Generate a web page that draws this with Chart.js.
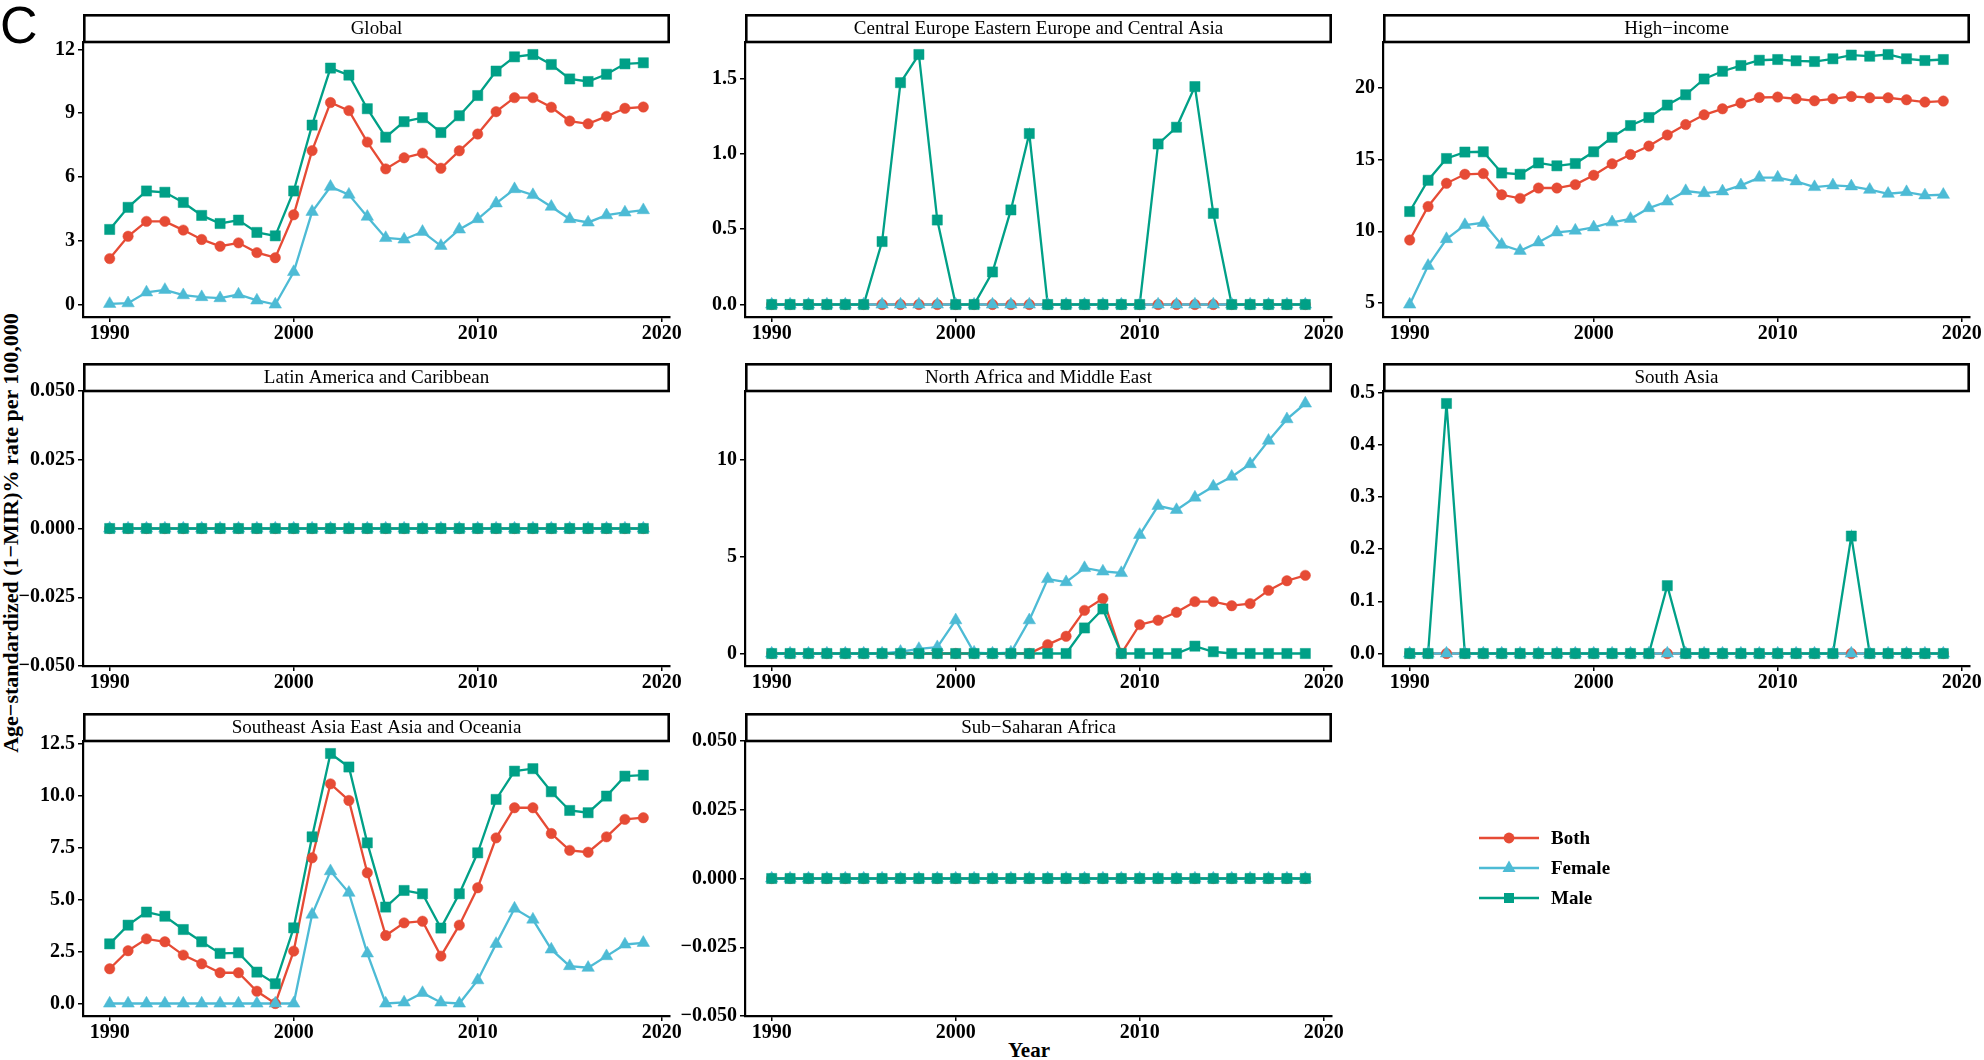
<!DOCTYPE html>
<html>
<head>
<meta charset="utf-8">
<script src="https://cdn.jsdelivr.net/npm/chart.js@4.4.1/dist/chart.umd.min.js"></script>
<style>
html, body { margin:0; padding:0; background:#fff; overflow:hidden; }
body { width:1984px; height:1060px; position:relative; }
canvas { position:absolute; }
.lbl { position:absolute; color:#000; white-space:nowrap; }
#tag { left:0; top:-1px; font:52px/1 "Liberation Sans", Arial, sans-serif; }
#ytitle { font:bold 22px/1 "Liberation Serif", serif; left:11px; top:533px; transform:translate(-50%,-50%) rotate(-90deg); }
#xtitle { font:bold 21px/1 "Liberation Serif", serif; left:1029px; top:1050px; transform:translate(-50%,-50%); }
</style>
</head>
<body>
<div id="tag" class="lbl">C</div>
<div id="ytitle" class="lbl">Age−standardized (1−MIR)% rate per 100,000</div>
<div id="xtitle" class="lbl">Year</div>

<script>
// data
var years = [1990,1991,1992,1993,1994,1995,1996,1997,1998,1999,2000,2001,2002,2003,2004,2005,2006,2007,2008,2009,2010,2011,2012,2013,2014,2015,2016,2017,2018,2019];
var xTicks = [1990, 2000, 2010, 2020];
var seriesNames = ['Both', 'Female', 'Male'];

var globalBoth   = [2.16,3.21,3.91,3.91,3.50,3.06,2.74,2.90,2.44,2.20,4.22,7.24,9.50,9.12,7.64,6.38,6.90,7.12,6.41,7.23,8.02,9.07,9.73,9.73,9.28,8.63,8.50,8.85,9.23,9.29];
var globalFemale = [0.03,0.06,0.57,0.69,0.44,0.35,0.30,0.47,0.19,0.00,1.53,4.36,5.54,5.17,4.13,3.13,3.06,3.42,2.76,3.53,4.02,4.76,5.43,5.15,4.60,4.02,3.86,4.20,4.33,4.44];
var globalMale   = [3.53,4.57,5.34,5.28,4.80,4.19,3.81,3.97,3.39,3.23,5.34,8.44,11.12,10.79,9.21,7.87,8.60,8.79,8.09,8.88,9.83,10.98,11.65,11.76,11.29,10.61,10.49,10.83,11.32,11.37];
var globalTicks  = [0, 3, 6, 9, 12];

var ceeBoth   = [0,0,0,0,0,0,0,0,0,0,0,0,0,0,0,0,0,0,0,0,0,0,0,0,0,0,0,0,0,0];
var ceeFemale = [0,0,0,0,0,0,0,0,0,0,0,0,0,0,0,0,0,0,0,0,0,0,0,0,0,0,0,0,0,0];
var ceeMale   = [0,0,0,0,0,0,0.418,1.473,1.660,0.561,0,0,0.216,0.628,1.135,0,0,0,0,0,0,1.066,1.177,1.447,0.605,0,0,0,0,0];
var ceeTicks  = [0, 0.5, 1.0, 1.5];

var hiBoth   = [9.39,11.73,13.35,13.98,14.03,12.55,12.30,13.02,13.02,13.26,13.91,14.71,15.36,15.95,16.72,17.45,18.13,18.55,18.95,19.34,19.37,19.25,19.11,19.25,19.41,19.32,19.32,19.18,19.02,19.09];
var hiFemale = [4.89,7.59,9.46,10.44,10.59,9.06,8.64,9.23,9.93,10.05,10.28,10.63,10.87,11.62,12.08,12.81,12.67,12.79,13.21,13.75,13.75,13.49,13.09,13.21,13.14,12.90,12.62,12.74,12.51,12.55];
var hiMale   = [11.38,13.56,15.08,15.53,15.55,14.07,13.98,14.77,14.57,14.73,15.55,16.56,17.38,17.94,18.81,19.53,20.63,21.17,21.57,21.94,21.99,21.90,21.85,22.04,22.30,22.22,22.34,22.04,21.92,21.99];
var hiTicks  = [5, 10, 15, 20];

var lacBoth   = [0,0,0,0,0,0,0,0,0,0,0,0,0,0,0,0,0,0,0,0,0,0,0,0,0,0,0,0,0,0];
var lacFemale = [0,0,0,0,0,0,0,0,0,0,0,0,0,0,0,0,0,0,0,0,0,0,0,0,0,0,0,0,0,0];
var lacMale   = [0,0,0,0,0,0,0,0,0,0,0,0,0,0,0,0,0,0,0,0,0,0,0,0,0,0,0,0,0,0];
var lacTicks  = [-0.05, -0.025, 0, 0.025, 0.05];

var nameBoth   = [0,0,0,0,0,0,0,0,0,0,0,0,0,0,0,0.46,0.89,2.23,2.84,0,1.49,1.72,2.13,2.68,2.68,2.47,2.58,3.26,3.76,4.04];
var nameFemale = [0,0,0,0,0,0,0,0.09,0.24,0.33,1.72,0.05,0,0.05,1.72,3.85,3.69,4.42,4.24,4.16,6.13,7.63,7.42,8.06,8.63,9.14,9.79,11.00,12.11,12.92];
var nameMale   = [0,0,0,0,0,0,0,0,0,0,0,0,0,0,0,0,0,1.32,2.30,0,0,0,0,0.38,0.09,0,0,0,0,0];
var nameTicks  = [0, 5, 10];

var saBoth   = [0,0,0,0,0,0,0,0,0,0,0,0,0,0,0,0,0,0,0,0,0,0,0,0,0,0,0,0,0,0];
var saFemale = [0,0,0,0,0,0,0,0,0,0,0,0,0,0,0,0,0,0,0,0,0,0,0,0,0,0,0,0,0,0];
var saMale   = [0,0,0.479,0,0,0,0,0,0,0,0,0,0,0,0.130,0,0,0,0,0,0,0,0,0,0.225,0,0,0,0,0];
var saTicks  = [0, 0.1, 0.2, 0.3, 0.4, 0.5];

var seaBoth   = [1.67,2.54,3.11,2.97,2.33,1.91,1.48,1.48,0.59,0.00,2.52,7.01,10.57,9.77,6.29,3.27,3.88,3.96,2.28,3.77,5.57,7.97,9.42,9.42,8.18,7.37,7.28,8.02,8.86,8.94];
var seaFemale = [0,0,0,0,0,0,0,0,0,0,0,4.28,6.37,5.33,2.41,0,0.05,0.51,0.05,0,1.12,2.87,4.57,4.04,2.60,1.80,1.72,2.28,2.84,2.92];
var seaMale   = [2.87,3.77,4.40,4.20,3.56,2.97,2.41,2.44,1.51,0.95,3.64,8.02,12.03,11.38,7.73,4.64,5.44,5.28,3.63,5.28,7.25,9.82,11.18,11.30,10.19,9.29,9.18,9.98,10.94,10.99];
var seaTicks  = [0, 2.5, 5, 7.5, 10, 12.5];

var ssaBoth   = [0,0,0,0,0,0,0,0,0,0,0,0,0,0,0,0,0,0,0,0,0,0,0,0,0,0,0,0,0,0];
var ssaFemale = [0,0,0,0,0,0,0,0,0,0,0,0,0,0,0,0,0,0,0,0,0,0,0,0,0,0,0,0,0,0];
var ssaMale   = [0,0,0,0,0,0,0,0,0,0,0,0,0,0,0,0,0,0,0,0,0,0,0,0,0,0,0,0,0,0];
var ssaTicks  = [-0.05, -0.025, 0, 0.025, 0.05];

// layout
var colors = ['#E64B35', '#4DBBD5', '#00A087'];
var styles = ['circle', 'triangle', 'rect'];
var radii = [5.2, 7.2, 7.2];
var colLeft = [83, 745, 1383];
var rowTop = [14, 363, 713];
var PLOT_W = 587, PLOT_H = 275, STRIP_H = 28, Y_W = 80, X_H = 40, PAD_R = 25;
var tickFont = { family: 'Liberation Serif', size: 20, weight: 'bold' };

var panels = [
  { title: 'Global', data: [globalBoth, globalFemale, globalMale], ticks: globalTicks, dec: 0, col: 0, row: 0 },
  { title: 'Central Europe Eastern Europe and Central Asia', data: [ceeBoth, ceeFemale, ceeMale], ticks: ceeTicks, dec: 1, col: 1, row: 0 },
  { title: 'High\u2212income', data: [hiBoth, hiFemale, hiMale], ticks: hiTicks, dec: 0, col: 2, row: 0 },
  { title: 'Latin America and Caribbean', data: [lacBoth, lacFemale, lacMale], ticks: lacTicks, dec: 3, col: 0, row: 1 },
  { title: 'North Africa and Middle East', data: [nameBoth, nameFemale, nameMale], ticks: nameTicks, dec: 0, col: 1, row: 1 },
  { title: 'South Asia', data: [saBoth, saFemale, saMale], ticks: saTicks, dec: 1, col: 2, row: 1 },
  { title: 'Southeast Asia East Asia and Oceania', data: [seaBoth, seaFemale, seaMale], ticks: seaTicks, dec: 1, col: 0, row: 2 },
  { title: 'Sub\u2212Saharan Africa', data: [ssaBoth, ssaFemale, ssaMale], ticks: ssaTicks, dec: 3, col: 1, row: 2 }
];

// strip box on top of each panel, ggplot style
var stripPlugin = {
  id: 'strip',
  afterDraw: function (chart, args, opts) {
    var ctx = chart.ctx, a = chart.chartArea;
    ctx.save();
    ctx.fillStyle = '#fff';
    ctx.fillRect(a.left, a.top - STRIP_H, a.right - a.left, STRIP_H);
    ctx.lineWidth = 2.6;
    ctx.strokeStyle = '#000';
    ctx.strokeRect(a.left + 1.3, a.top - STRIP_H + 1.3, a.right - a.left - 2.6, STRIP_H - 1.3);
    ctx.fillStyle = '#000';
    ctx.font = '19px "Liberation Serif"';
    ctx.textAlign = 'center';
    ctx.textBaseline = 'middle';
    ctx.fillText(opts.text, (a.left + a.right) / 2, a.top - STRIP_H / 2 + 1);
    ctx.restore();
  }
};

function fmt(v, dec) {
  var s = Math.abs(v).toFixed(dec);
  return (v < -1e-9 ? '\u2212' : '') + s;
}

function yRange(arrs) {
  var all = [].concat.apply([], arrs);
  var lo = Math.min.apply(null, all), hi = Math.max.apply(null, all);
  if (hi === lo) return [lo - 0.05, hi + 0.05];
  var e = (hi - lo) * 0.05;
  return [lo - e, hi + e];
}

var xMin = years[0] - (years[years.length - 1] - years[0]) * 0.05;
var xMax = years[years.length - 1] + (years[years.length - 1] - years[0]) * 0.05;

function makeCanvas(left, top, w, h) {
  var c = document.createElement('canvas');
  c.width = w; c.height = h;
  c.style.left = left + 'px'; c.style.top = top + 'px';
  c.style.width = w + 'px'; c.style.height = h + 'px';
  document.body.appendChild(c);
  return c;
}

panels.forEach(function (p) {
  var canvas = makeCanvas(colLeft[p.col] - Y_W, rowTop[p.row], Y_W + PLOT_W + PAD_R, STRIP_H + PLOT_H + X_H);
  var datasets = [];
  p.data.forEach(function (vals, k) {
    var pts = years.map(function (y, i) { return { x: y, y: vals[i] }; });
    // lines underneath all points, like geom_line then geom_point
    datasets.push({ label: seriesNames[k], data: pts, borderColor: colors[k], borderWidth: 2.3,
      pointRadius: 0, tension: 0, order: 6 - k, clip: false });
    datasets.push({ label: seriesNames[k], data: pts, showLine: false, pointStyle: styles[k],
      pointRadius: radii[k], backgroundColor: colors[k], pointBackgroundColor: colors[k],
      pointBorderColor: colors[k], pointBorderWidth: 0.5, order: 3 - k, clip: false });
  });
  var yr = yRange(p.data);
  var ticks = p.ticks, dec = p.dec;
  new Chart(canvas, {
    type: 'line',
    data: { datasets: datasets },
    plugins: [stripPlugin],
    options: {
      responsive: false, animation: false, devicePixelRatio: 1, events: [],
      layout: { padding: { top: STRIP_H, right: PAD_R, left: 0, bottom: 0 } },
      plugins: { legend: { display: false }, tooltip: { enabled: false }, strip: { text: p.title } },
      scales: {
        x: {
          type: 'linear', min: xMin, max: xMax,
          afterBuildTicks: function (s) { s.ticks = xTicks.map(function (v) { return { value: v }; }); },
          afterFit: function (s) { s.height = X_H; },
          ticks: { callback: function (v) { return String(v); }, font: tickFont, color: '#000', padding: 0, maxRotation: 0, autoSkip: false },
          grid: { display: true, drawOnChartArea: false, drawTicks: true, tickLength: 5, color: '#000', lineWidth: 1.5 },
          border: { display: true, color: '#000', width: 2.2 }
        },
        y: {
          type: 'linear', min: yr[0], max: yr[1],
          afterBuildTicks: function (s) { s.ticks = ticks.map(function (v) { return { value: v }; }); },
          afterFit: function (s) { s.width = Y_W; },
          ticks: { callback: function (v) { return fmt(v, dec); }, font: tickFont, color: '#000', padding: 3, autoSkip: false },
          grid: { display: true, drawOnChartArea: false, drawTicks: true, tickLength: 5, color: '#000', lineWidth: 1.5 },
          border: { display: true, color: '#000', width: 2.2 }
        }
      }
    }
  });
});

// legend in the empty ninth cell
var legendPlugin = {
  id: 'keyBox',
  afterDraw: function (chart) {
    var ctx = chart.ctx;
    chart.data.datasets.forEach(function (ds, k) {
      var y = 125 + k * 30, x0 = 96, x1 = 156, xm = (x0 + x1) / 2;
      ctx.save();
      ctx.strokeStyle = ds.borderColor; ctx.lineWidth = 2.6;
      ctx.beginPath(); ctx.moveTo(x0, y); ctx.lineTo(x1, y); ctx.stroke();
      ctx.fillStyle = ds.borderColor;
      ctx.beginPath();
      if (ds.pointStyle === 'circle') {
        ctx.arc(xm, y, 5.4, 0, Math.PI * 2);
      } else if (ds.pointStyle === 'triangle') {
        ctx.moveTo(xm, y - 7.5); ctx.lineTo(xm + 6.5, y + 4); ctx.lineTo(xm - 6.5, y + 4); ctx.closePath();
      } else {
        ctx.rect(xm - 5, y - 5, 10, 10);
      }
      ctx.fill();
      ctx.fillStyle = '#000';
      ctx.font = 'bold 19px "Liberation Serif"';
      ctx.textAlign = 'left'; ctx.textBaseline = 'middle';
      ctx.fillText(ds.label, 168, y + 1);
      ctx.restore();
    });
  }
};
var legendCanvas = makeCanvas(1383, 713, 601, 347);
new Chart(legendCanvas, {
  type: 'line',
  data: { datasets: seriesNames.map(function (n, k) {
    return { label: n, data: [], borderColor: colors[k], pointStyle: styles[k] };
  }) },
  plugins: [legendPlugin],
  options: {
    responsive: false, animation: false, devicePixelRatio: 1, events: [],
    plugins: { legend: { display: false }, tooltip: { enabled: false } },
    scales: { x: { display: false }, y: { display: false } }
  }
});
</script>
</body>
</html>
